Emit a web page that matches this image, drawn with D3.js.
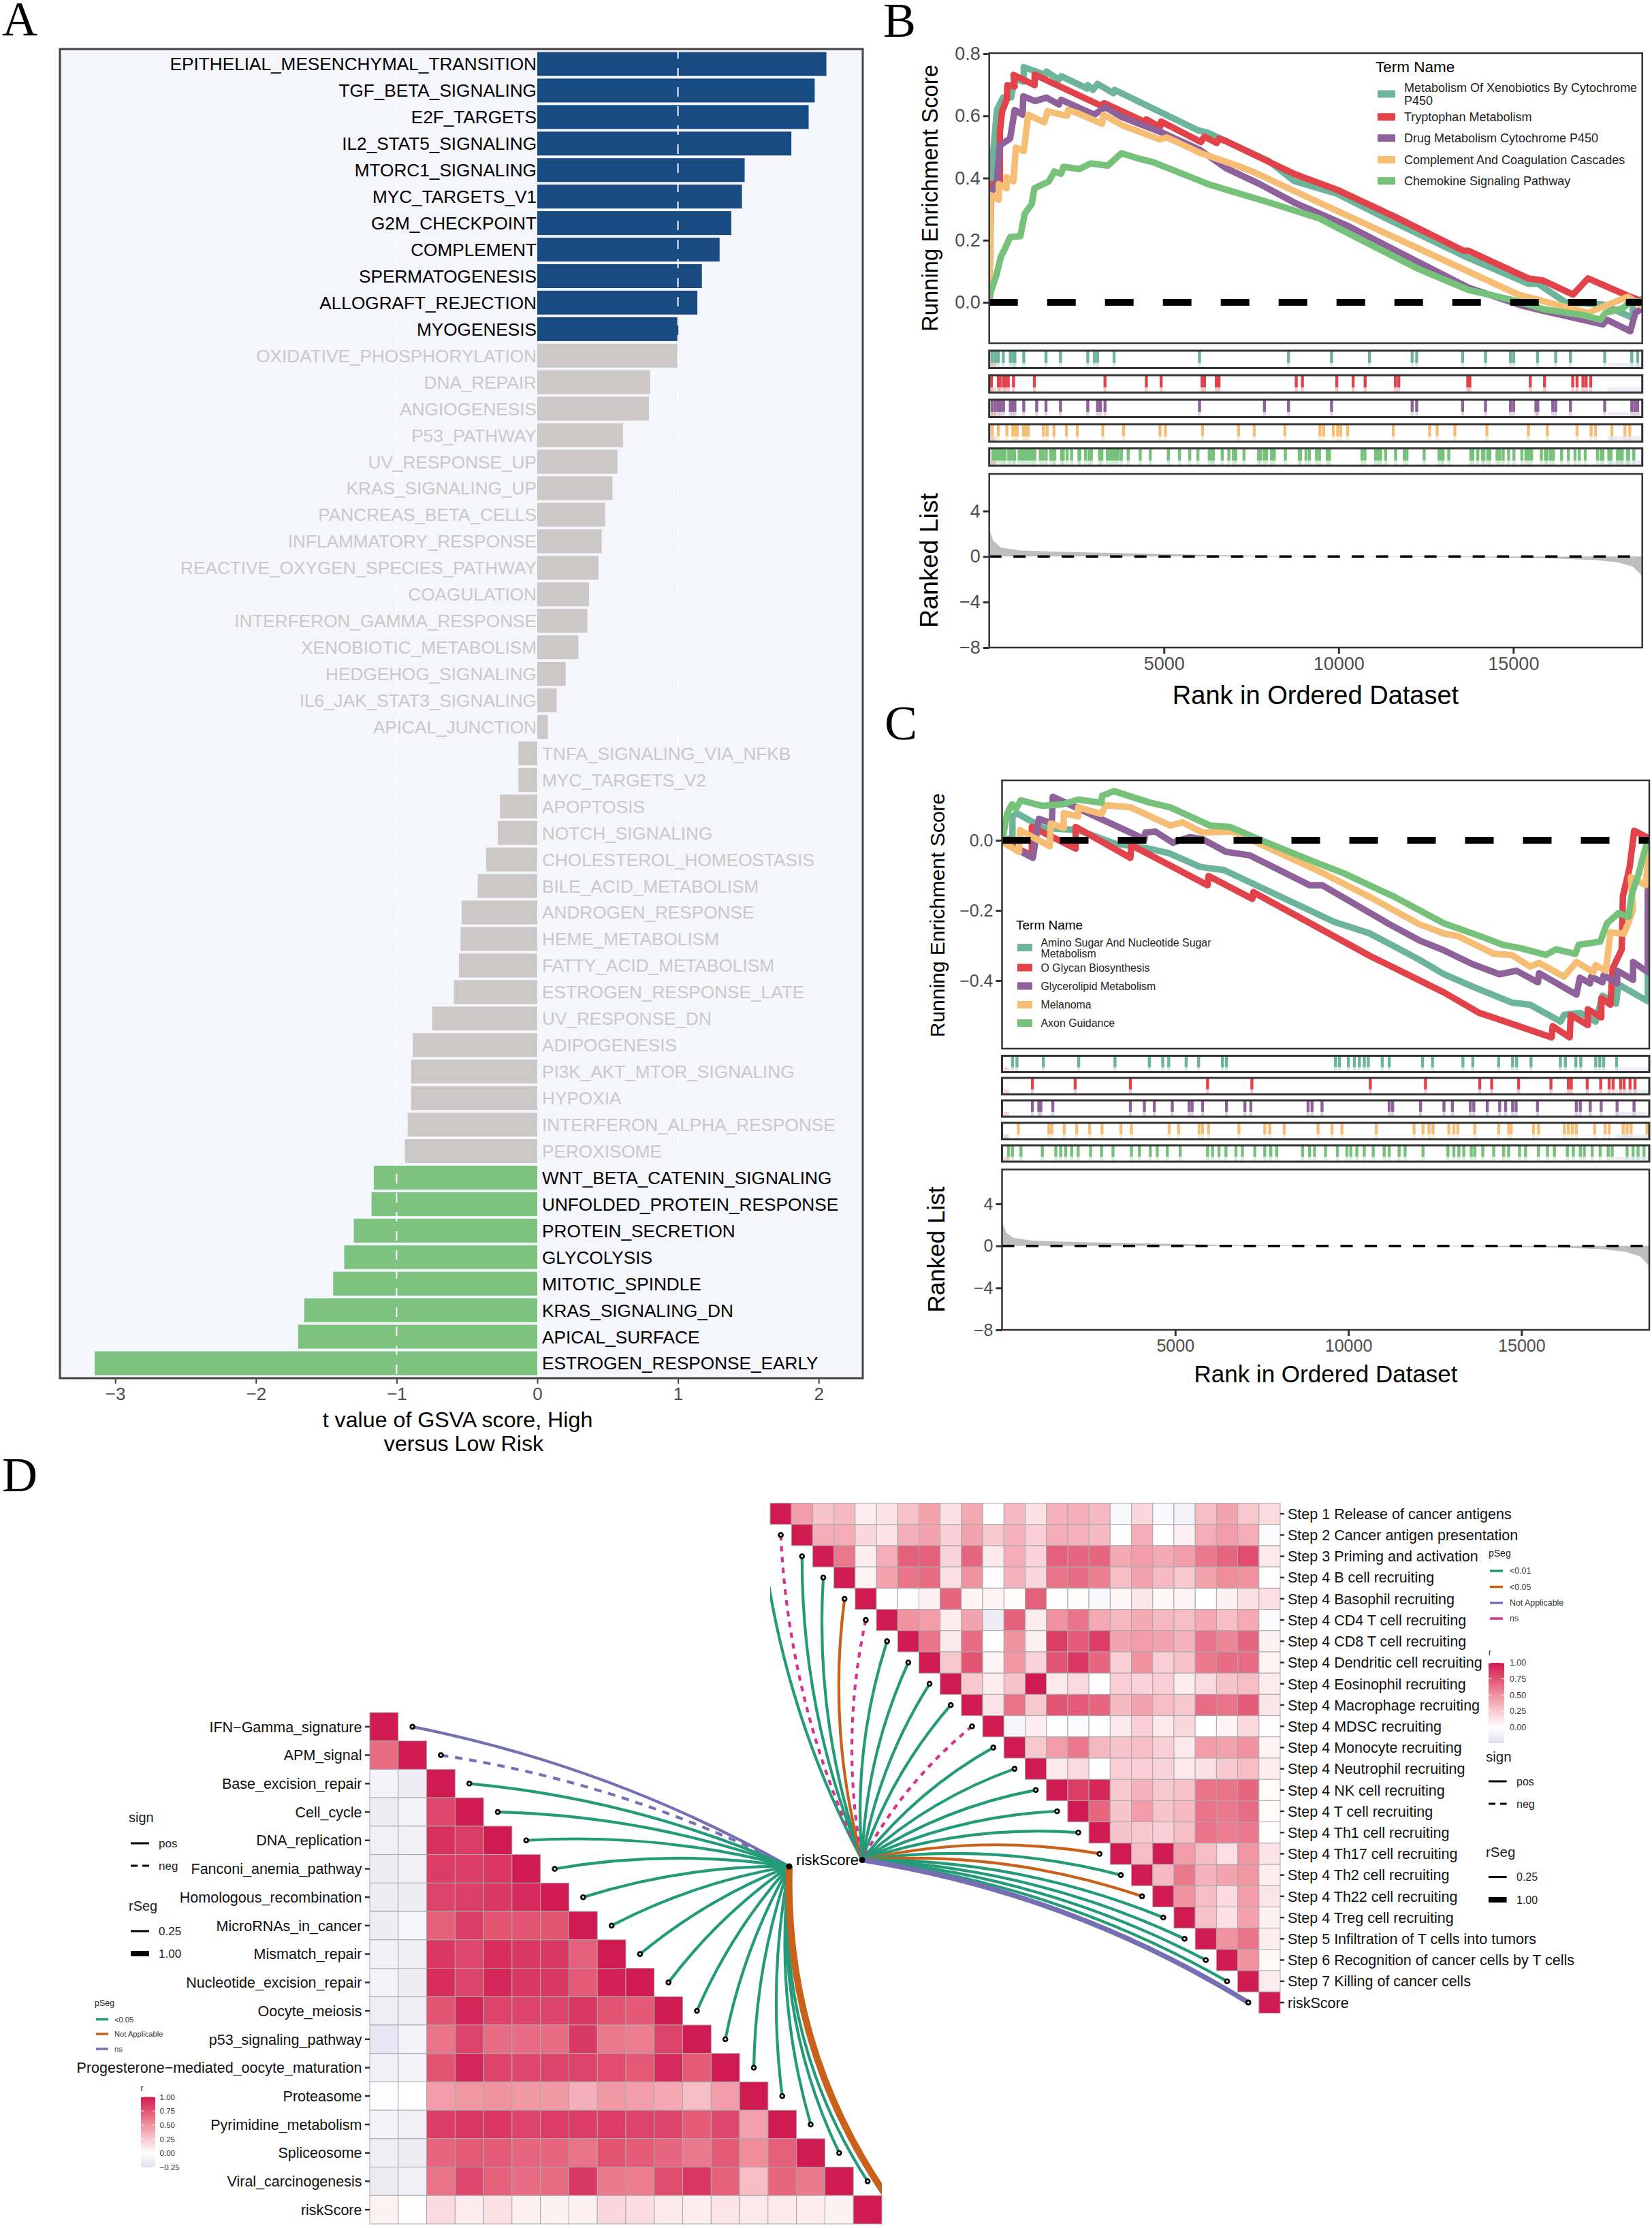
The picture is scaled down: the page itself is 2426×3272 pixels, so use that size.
<!doctype html>
<html>
<head>
<meta charset="utf-8">
<title>GSVA, GSEA and correlation panels</title>
<script src="https://d3js.org/d3.v7.min.js"></script>
<style>
    body { margin: 0; background: #fff; }
    text { font-family: "Liberation Sans", Arial, sans-serif; }
    .letter { font-family: "Liberation Serif", "Times New Roman", serif; font-size: 72px; fill: #000; }
    .tick text { fill: #4d4d4d; }
</style>
</head>
<body>
<script>

    // panel A
    var hallmarkNames = ["EPITHELIAL_MESENCHYMAL_TRANSITION","TGF_BETA_SIGNALING","E2F_TARGETS","IL2_STAT5_SIGNALING","MTORC1_SIGNALING","MYC_TARGETS_V1","G2M_CHECKPOINT","COMPLEMENT","SPERMATOGENESIS","ALLOGRAFT_REJECTION","MYOGENESIS","OXIDATIVE_PHOSPHORYLATION","DNA_REPAIR","ANGIOGENESIS","P53_PATHWAY","UV_RESPONSE_UP","KRAS_SIGNALING_UP","PANCREAS_BETA_CELLS","INFLAMMATORY_RESPONSE","REACTIVE_OXYGEN_SPECIES_PATHWAY","COAGULATION","INTERFERON_GAMMA_RESPONSE","XENOBIOTIC_METABOLISM","HEDGEHOG_SIGNALING","IL6_JAK_STAT3_SIGNALING","APICAL_JUNCTION","TNFA_SIGNALING_VIA_NFKB","MYC_TARGETS_V2","APOPTOSIS","NOTCH_SIGNALING","CHOLESTEROL_HOMEOSTASIS","BILE_ACID_METABOLISM","ANDROGEN_RESPONSE","HEME_METABOLISM","FATTY_ACID_METABOLISM","ESTROGEN_RESPONSE_LATE","UV_RESPONSE_DN","ADIPOGENESIS","PI3K_AKT_MTOR_SIGNALING","HYPOXIA","INTERFERON_ALPHA_RESPONSE","PEROXISOME","WNT_BETA_CATENIN_SIGNALING","UNFOLDED_PROTEIN_RESPONSE","PROTEIN_SECRETION","GLYCOLYSIS","MITOTIC_SPINDLE","KRAS_SIGNALING_DN","APICAL_SURFACE","ESTROGEN_RESPONSE_EARLY"];
    var hallmarkT = [2.055,1.972,1.929,1.806,1.474,1.455,1.379,1.296,1.17,1.138,1.003,0.996,0.802,0.794,0.609,0.569,0.534,0.482,0.458,0.435,0.368,0.356,0.292,0.202,0.138,0.075,-0.134,-0.134,-0.265,-0.281,-0.364,-0.423,-0.538,-0.545,-0.557,-0.593,-0.747,-0.885,-0.897,-0.897,-0.921,-0.941,-1.162,-1.178,-1.304,-1.372,-1.451,-1.656,-1.7,-3.146];
    var tTicks = [-3,-2,-1,0,1,2];

    // panel B, running score as [rank, score]
    var termsB = ["Metabolism Of Xenobiotics By Cytochrome\nP450","Tryptophan Metabolism","Drug Metabolism Cytochrome P450","Complement And Coagulation Cascades","Chemokine Signaling Pathway"];
    var esB1 = [[0,0],[13,.1],[78,.44],[143,.52],[221,.62],[403,.66],[630,.66],[728,.72],[988,.71],[988,.757],[1605,.732],[1638,.743],[1995,.717],[2060,.728],[2808,.688],[2821,.699],[2970,.684],[3100,.703],[3555,.673],[3588,.684],[5993,.553],[6253,.546],[8000,.455],[8732,.39],[9943,.35],[11581,.258],[13575,.15],[15427,.06],[15700,.06],[16500,0],[17564,-.007],[18418,-.05],[18418,.003],[18690,.01]];
    var esB2 = [[0,0],[26,.38],[305,.381],[305,.549],[370,.615],[500,.652],[520,.699],[728,.695],[695,.732],[1300,.699],[1300,.733],[3198,.633],[3296,.641],[4433,.582],[4498,.589],[4888,.564],[4920,.582],[6058,.516],[6155,.533],[6513,.513],[6578,.527],[6773,.519],[8732,.413],[8875,.407],[9943,.363],[11581,.277],[13575,.166],[13717,.166],[15427,.077],[15854,.07],[16709,.025],[17137,.077],[18348,.018],[18690,.003]];
    var esB3 = [[0,0],[45,.352],[208,.381],[305,.505],[598,.527],[728,.619],[955,.604],[975,.663],[1313,.648],[1638,.659],[1995,.637],[2060,.652],[3003,.604],[3328,.628],[3783,.597],[4953,.546],[6025,.491],[6773,.432],[7735,.381],[8732,.321],[10300,.244],[12293,.129],[13717,.047],[15285,-.012],[15854,-.027],[17564,-.071],[17678,-.056],[18348,-.093],[18490,-.034],[18690,-.019]];
    var esB4 = [[0,0],[45,.345],[273,.33],[273,.381],[500,.367],[500,.403],[695,.389],[760,.498],[988,.487],[1118,.604],[1573,.579],[1670,.615],[2223,.6],[2255,.619],[2548,.608],[3230,.575],[3263,.604],[3848,.568],[4888,.524],[5083,.531],[6058,.48],[7094,.44],[7592,.418],[9444,.321],[10869,.247],[12293,.173],[13717,.099],[15142,.025],[17137,-.034],[17279,-.027],[18276,.018],[18690,-.012]];
    var esB5 = [[0,0],[45,.034],[208,.089],[338,.148],[468,.177],[598,.21],[890,.213],[1020,.286],[1215,.316],[1293,.367],[1703,.389],[1865,.421],[2060,.414],[2125,.436],[2580,.429],[2905,.447],[3393,.44],[3783,.48],[4303,.462],[4693,.451],[5278,.425],[6253,.381],[6773,.363],[8020,.321],[9444,.27],[10869,.188],[12293,.107],[13717,.04],[15142,.003],[15854,-.022],[16994,-.041],[17493,-.056],[17635,-.034],[18134,-.019],[18348,.003],[18690,.003]];

    var hitsB1 = [84,175,260,402,604,688,734,988,1624,2040,2820,3009,3100,3574,6018,8566,9797,10883,12104,12234,13548,14204,14919,15010,15692,16212,16635,17616,18390,18559];
    var hitsB2 = [64,260,311,409,467,545,695,1293,3314,4497,4920,6090,6161,6499,6577,8787,8963,9947,10415,10759,11624,11721,13697,13756,15485,15894,16700,16824,16993,17084,17214];
    var hitsB3 = [84,175,260,324,409,604,669,734,988,1358,1624,2040,2820,3100,3184,3314,6018,7877,8566,9797,12104,12234,13548,14204,14919,15010,15647,15699,16128,16212,16635,17616,18390,18475,18559];
    var hitsB4 = [84,260,506,675,753,799,981,1059,1117,1553,1657,1852,2209,2521,3249,3847,4887,5043,6103,7136,7585,8462,9465,9570,9849,9973,10057,10258,11565,12605,12820,13326,14243,15432,15972,16823,17226,17350,17818,18195,18332];
    var hitsB5 = [103,181,259,337,402,454,558,610,688,727,857,935,1013,1091,1169,1247,1306,1462,1540,1631,1761,1832,1878,2073,2118,2229,2359,2567,2593,2756,2859,2924,3158,3223,3379,3457,3535,3613,3691,3782,3977,4322,4608,5128,5446,5739,5973,6298,6369,6415,6668,6857,6987,7058,7292,7708,7760,7864,7936,8079,8157,8476,8872,8911,9067,9165,9368,9453,9673,9738,10668,10753,11058,11136,11201,11344,11630,11877,11955,12449,12871,12943,12989,13151,13782,13840,13983,14120,14159,14269,14327,14535,14613,14711,14867,15017,15244,15361,15439,15523,15803,15920,15966,16070,16148,16381,16576,16765,16889,17058,17409,17513,17565,17733,17798,17981,18059,18117,18267,18299,18448];

    var rankedB = [[0,2.65],[40,2.1],[114,1.4],[330,.8],[900,.53],[2300,.4],[3750,.3],[6600,.12],[10000,0],[13700,-.05],[15850,-.15],[17280,-.3],[18000,-.5],[18420,-.9],[18630,-1.5],[18690,-1.8]];

    // panel C
    var termsC = ["Amino Sugar And Nucleotide Sugar\nMetabolism","O Glycan Biosynthesis","Glycerolipid Metabolism","Melanoma","Axon Guidance"];
    var esC1 = [[0,-.004],[302,.009],[302,.068],[431,.077],[1193,.035],[2199,.029],[3276,-.01],[4254,-.024],[4828,-.037],[5719,-.076],[6409,-.085],[9599,-.233],[10605,-.265],[12042,-.34],[12761,-.382],[13611,-.418],[14723,-.463],[15246,-.469],[16129,-.517],[16227,-.498],[16685,-.492],[17143,-.517],[17339,-.443],[17732,-.466],[17797,-.411],[18647,-.459],[18647,-.005],[18690,0]];
    var esC2 = [[0,-.004],[862,-.043],[862,.038],[2127,-.024],[2127,.038],[3707,-.05],[3736,-.014],[5935,-.128],[5964,-.102],[7228,-.167],[7257,-.148],[10648,-.331],[12229,-.408],[12761,-.434],[13775,-.492],[14167,-.505],[14919,-.53],[15868,-.562],[15900,-.53],[16391,-.562],[16423,-.498],[16914,-.527],[16914,-.482],[17306,-.505],[17306,-.45],[17568,-.469],[17633,-.366],[17895,-.311],[17928,-.16],[18124,-.076],[18255,.027],[18690,.005]];
    var esC3 = [[0,-.004],[891,-.05],[1063,.061],[1437,.048],[1466,.124],[3707,.022],[4110,.003],[4139,.022],[4426,.025],[4929,-.007],[5432,.009],[5791,.003],[6466,-.033],[7156,-.043],[8881,-.128],[9240,-.128],[11180,-.239],[12042,-.285],[12761,-.314],[13578,-.353],[14363,-.382],[14854,-.372],[15475,-.405],[15508,-.379],[16587,-.44],[16685,-.392],[16979,-.408],[17012,-.389],[17339,-.405],[17372,-.385],[17764,-.408],[17764,-.372],[18222,-.398],[18222,-.347],[18647,-.376],[18647,-.14],[18690,0]];
    var esC4 = [[0,-.004],[489,-.033],[517,.029],[1380,-.017],[1408,.048],[1782,.035],[1782,.077],[2199,.068],[2199,.094],[2874,.075],[2989,.1],[3707,.094],[4857,.042],[5216,.051],[5791,.022],[6653,.025],[7587,-.017],[9168,-.089],[10605,-.161],[12042,-.239],[12761,-.266],[13153,-.273],[14200,-.324],[14723,-.327],[15246,-.36],[15508,-.35],[16227,-.389],[16587,-.347],[17077,-.376],[17143,-.356],[17437,-.372],[17568,-.263],[17960,-.266],[18091,-.234],[18222,-.198],[18156,-.105],[18581,-.128],[18647,-.063],[18690,0]];
    var esC5 = [[0,-.004],[144,.075],[287,.103],[402,.09],[546,.114],[1164,.098],[1767,.103],[2199,.116],[2874,.107],[2888,.127],[3233,.14],[4282,.107],[4857,.094],[6007,.042],[6581,.038],[7587,-.004],[8881,-.056],[9887,-.095],[11323,-.161],[12761,-.237],[13873,-.276],[14461,-.298],[14985,-.308],[15704,-.327],[15998,-.311],[16554,-.324],[16652,-.298],[17274,-.289],[17470,-.237],[17797,-.208],[18091,-.218],[18189,-.153],[18385,-.095],[18516,-.044],[18647,0],[18690,0]];

    var hitsC1 = [302,431,1193,2213,3262,4254,4642,4814,5317,5676,6366,6481,9628,9743,10002,10174,10318,10461,10576,10979,11180,12143,12430,13307,13594,14341,14744,14859,15275,16123,16267,16569,16713,17144,17259,17373,17747];
    var hitsC2 = [877,2112,3707,5935,7214,10634,12229,13795,14140,14916,15850,16353,16439,16899,17287,17531,17646,17862,17963,18135,18279];
    var hitsC3 = [877,1063,1121,1466,3707,4110,4397,4915,5403,5489,5791,6481,7013,7185,8838,8953,9240,11180,11280,12085,12761,13005,13522,13623,14011,14370,14542,14744,14845,15462,16583,16698,16985,17301,17761,18250];
    var hitsC4 = [474,1351,1437,1796,2155,2529,2888,3434,3736,4828,5101,5691,5791,5964,6840,7587,7731,8148,9125,9527,9815,10806,11898,12157,12329,12444,12904,13048,13163,13652,14341,14629,14701,15347,15491,16238,16353,16468,16583,17115,17416,17531,17934,18049,18164,18624];
    var hitsC5 = [187,302,546,1164,1552,1696,1839,2012,2199,2558,2874,3204,3736,3966,4282,4483,4771,5145,5935,6078,6265,6466,6754,6941,7300,7587,7760,7932,8680,8881,9024,9341,9685,9958,10073,10246,10461,10720,11036,11180,11467,11640,12157,12876,13048,13192,13336,13551,13652,13882,14198,14485,14629,14945,15117,15491,15750,15951,16325,16497,16698,16813,17043,17273,17503,17618,18049,18221,18365,18537];

    var rankedC = [[0,2.55],[40,2],[114,1.3],[330,.75],[900,.5],[2300,.35],[3750,.25],[6600,.1],[10000,0],[13700,-.05],[15850,-.15],[17280,-.3],[18000,-.55],[18420,-1],[18630,-1.7],[18690,-2]];

    var rankTicks = [5000,10000,15000];
    var rankedTicks = [-8,-4,0,4];
    var termColors = ["#6CB59A","#E2434B","#8F619B","#F5BE74","#76C27A"];

    // panel D, left correlation triangle
    var leftNames = ["IFN\u2212Gamma_signature","APM_signal","Base_excision_repair","Cell_cycle","DNA_replication","Fanconi_anemia_pathway","Homologous_recombination","MicroRNAs_in_cancer","Mismatch_repair","Nucleotide_excision_repair","Oocyte_meiosis","p53_signaling_pathway","Progesterone\u2212mediated_oocyte_maturation","Proteasome","Pyrimidine_metabolism","Spliceosome","Viral_carcinogenesis","riskScore"];
    var leftR = [
        [1],
        [.65,1],
        [-.1,-.15,1],
        [-.15,-.1,.8,1],
        [-.12,-.12,.9,.85,1],
        [-.15,-.12,.85,.85,.88,1],
        [-.15,-.14,.82,.84,.87,.93,1],
        [-.14,-.08,.7,.85,.75,.75,.75,1],
        [-.11,-.13,.88,.8,.92,.87,.87,.7,1],
        [-.1,-.14,.92,.82,.95,.87,.87,.72,.97,1],
        [-.13,-.13,.75,.95,.82,.82,.82,.87,.75,.73,1],
        [-.2,-.1,.62,.82,.65,.65,.65,.87,.6,.58,.82,1],
        [-.12,-.1,.75,.95,.82,.8,.82,.82,.78,.73,.93,.72,1],
        [-.02,0,.45,.48,.5,.47,.47,.37,.47,.45,.4,.3,.45,1],
        [-.1,-.12,.85,.88,.88,.82,.85,.85,.85,.82,.82,.72,.8,.43,1],
        [-.13,-.15,.68,.72,.72,.68,.68,.62,.75,.72,.68,.6,.72,.52,.7,1],
        [-.16,-.12,.62,.8,.7,.65,.65,.87,.6,.58,.78,.88,.7,.3,.68,.6,1],
        [.06,-.02,.17,.09,.14,.07,.06,.07,.18,.16,.1,.08,.12,.1,.1,.08,.06,1]
    ];
    var leftBend = [.04,.04,.04,.04,.04,.04,.04,.04,.04,.04,.04,.04,.04,.04,.05,.07,.085,.085];
    var leftLinkKind = ["ns","nsNeg","p","p","p","p","p","p","p","p","p","p","p","p","p","p","p","na"];

    // panel D, right correlation triangle, each row starts on its diagonal
    var rightNames = ["Step 1 Release of cancer antigens","Step 2 Cancer antigen presentation","Step 3 Priming and activation","Step 4 B cell recruiting","Step 4 Basophil recruiting","Step 4 CD4 T cell recruiting","Step 4 CD8 T cell recruiting","Step 4 Dendritic cell recruiting","Step 4 Eosinophil recruiting","Step 4 Macrophage recruiting","Step 4 MDSC recruiting","Step 4 Monocyte recruiting","Step 4 Neutrophil recruiting","Step 4 NK cell recruiting","Step 4 T cell recruiting","Step 4 Th1 cell recruiting","Step 4 Th17 cell recruiting","Step 4 Th2 cell recruiting","Step 4 Th22 cell recruiting","Step 4 Treg cell recruiting","Step 5 Infiltration of T cells into tumors","Step 6 Recognition of cancer cells by T cells","Step 7 Killing of cancer cells","riskScore"];
    var rightR = [
        [1,.45,.27,.32,.08,.13,.28,.42,.14,.4,.01,.33,.14,.35,.37,.32,-.05,.18,-.05,-.1,.3,.42,.25,.17],
        [1,.38,.38,.18,.13,.37,.42,.22,.42,.25,.35,.22,.38,.35,.32,.01,.38,.01,.07,.38,.45,.38,-.03],
        [1,.6,.08,.38,.7,.7,.2,.68,.1,.38,.2,.7,.68,.68,.4,.45,.4,.45,.6,.68,.78,.1],
        [1,.05,.42,.62,.65,.15,.5,-.02,.35,.18,.62,.65,.58,.3,.42,.32,.25,.42,.52,.5,0],
        [1,-.01,-.01,.07,.68,.05,.05,.02,.7,-.01,.02,-.05,.03,.12,.03,.05,0,.06,.14,.15],
        [1,.5,.45,.08,.42,-.15,.7,.09,.5,.62,.4,.33,.4,.33,.3,.4,.3,.4,-.03],
        [1,.62,.1,.65,0,.5,.07,.85,.72,.85,.42,.45,.42,.35,.62,.55,.68,.06],
        [1,.25,.75,.05,.48,.2,.75,.88,.68,.22,.5,.22,.28,.6,.65,.65,.05],
        [1,.25,.08,.28,1,.1,.17,0,.22,.2,.22,.08,.17,.27,.3,.09],
        [1,.13,.62,.25,.75,.72,.68,.32,.42,.3,.25,.65,.62,.72,.12],
        [1,-.08,.08,0,-.03,0,.1,.22,.1,.18,0,.05,.17,-.02],
        [1,.25,.45,.6,.33,.27,.3,.22,.1,.45,.42,.5,.05],
        [1,.1,.17,0,.22,.22,.2,.1,.14,.25,.3,.08],
        [1,.85,.95,.25,.35,.25,.28,.62,.62,.68,.02],
        [1,.68,.27,.45,.27,.32,.62,.6,.65,.02],
        [1,.27,.25,.22,.3,.62,.58,.6,.01],
        [1,.3,1,.45,.3,.15,.48,.13],
        [1,.32,.6,.35,.42,.48,.08],
        [1,.5,.3,.17,.45,.12],
        [1,.28,.14,.42,.07],
        [1,.5,.62,.08],
        [1,.5,.03],
        [1,.09],
        [1]
    ];
    var rightBend = .05;
    var rightLinkKind = ["p","nsNeg","p","p","na","nsNeg","p","p","p","p","nsNeg","p","p","p","p","p","na","p","na","p","p","p","p","thick"];

    var rStops = [-.25,0,.25,.5,.75,1];
    var rColors = ["#E1DFEE","#FFFFFF","#F8C8CF","#F0929F","#E25472","#D01A52"];

    var svg = d3.select("body").append("svg")
        .attr("width", 2426)
        .attr("height", 3272)
        .style("display", "block");

    var defs = svg.append("defs");

    function letter(s, x, y) {
        svg.append("text").attr("class", "letter").attr("x", x).attr("y", y).text(s);
    }
    letter("A", 3, 52);
    letter("B", 1297, 54);
    letter("C", 1299, 1086);
    letter("D", 3, 2190);

    // ---- A ----
    var ax = d3.scaleLinear().domain([-3, 2]).range([169.2, 1202.2]);
    var ay = d3.scaleBand().domain(hallmarkNames).range([74.5, 2021.5]).paddingInner(0.1).paddingOuter(0.05);

    svg.append("rect")
        .attr("x", 88).attr("y", 72).attr("width", 1179).attr("height", 1952)
        .attr("fill", "#F4F6FB");

    function hallmarkColor(i) {
        if (i <= 10) return "#174B82";
        if (i >= 42) return "#7DC27F";
        return "#CCC8C8";
    }

    svg.append("g").selectAll("rect").data(hallmarkT).join("rect")
        .attr("x", function(d) { return Math.min(ax(0), ax(d)); })
        .attr("width", function(d) { return Math.abs(ax(d) - ax(0)); })
        .attr("y", function(d, i) { return ay(hallmarkNames[i]); })
        .attr("height", ay.bandwidth())
        .attr("fill", function(d, i) { return hallmarkColor(i); });

    [-1, 1].forEach(function(v) {
        svg.append("line")
            .attr("x1", ax(v)).attr("x2", ax(v))
            .attr("y1", 72).attr("y2", 2024)
            .attr("stroke", "#fff").attr("stroke-width", 2)
            .attr("stroke-dasharray", "14,14");
    });

    svg.append("g").selectAll("text").data(hallmarkNames).join("text")
        .attr("x", function(d, i) { return hallmarkT[i] > 0 ? ax(0) - 1 : ax(0) + 7; })
        .attr("y", function(d) { return ay(d) + ay.bandwidth() / 2; })
        .attr("dy", "0.36em")
        .attr("text-anchor", function(d, i) { return hallmarkT[i] > 0 ? "end" : "start"; })
        .attr("fill", function(d, i) { return (i <= 10 || i >= 42) ? "#000" : "#CCC8C8"; })
        .attr("font-size", 26.2)
        .text(function(d) { return d; });

    svg.append("rect")
        .attr("x", 88).attr("y", 72).attr("width", 1179).attr("height", 1952)
        .attr("fill", "none").attr("stroke", "#444").attr("stroke-width", 3);

    var aAxis = svg.append("g")
        .attr("transform", "translate(0,2024)")
        .call(d3.axisBottom(ax).tickValues(tTicks).tickSize(8).tickPadding(6).tickFormat(d3.format("d")));
    aAxis.select(".domain").remove();
    aAxis.selectAll("line").attr("stroke", "#444").attr("stroke-width", 2);
    aAxis.selectAll("text").attr("font-size", 26).attr("font-family", "Liberation Sans");

    svg.append("text").attr("x", 672).attr("y", 2096).attr("text-anchor", "middle").attr("font-size", 32.2).text("t value of GSVA score, High");
    svg.append("text").attr("x", 681).attr("y", 2131).attr("text-anchor", "middle").attr("font-size", 32.2).text("versus Low Risk");

    // ---- B, C ----
    function drawGsea(c) {
        var x = d3.scaleLinear().domain([0, 18690]).range([c.left, c.right]);
        var y = d3.scaleLinear().domain(c.esDomain).range(c.esRange);
        var id = "clip" + c.name;

        defs.append("clipPath").attr("id", id).append("rect")
            .attr("x", c.left).attr("y", c.top).attr("width", c.right - c.left).attr("height", c.bottom - c.top);

        var line = d3.line().x(function(d) { return x(d[0]); }).y(function(d) { return y(d[1]); });
        var curves = svg.append("g").attr("clip-path", "url(#" + id + ")");
        c.es.forEach(function(s, i) {
            curves.append("path")
                .attr("d", line(s))
                .attr("fill", "none")
                .attr("stroke", termColors[i])
                .attr("stroke-width", 9.5)
                .attr("stroke-linejoin", "round")
                .attr("stroke-linecap", "round");
        });
        curves.append("line")
            .attr("x1", c.left).attr("x2", c.right)
            .attr("y1", y(0)).attr("y2", y(0))
            .attr("stroke", "#000").attr("stroke-width", 10)
            .attr("stroke-dasharray", "42,43");

        svg.append("rect")
            .attr("x", c.left).attr("y", c.top).attr("width", c.right - c.left).attr("height", c.bottom - c.top)
            .attr("fill", "none").attr("stroke", "#333").attr("stroke-width", 2.5);

        var esAxis = svg.append("g")
            .attr("transform", "translate(" + c.left + ",0)")
            .call(d3.axisLeft(y).tickValues(c.esTicks).tickSize(9).tickPadding(4).tickFormat(d3.format(".1f")));
        esAxis.select(".domain").remove();
        esAxis.selectAll("line").attr("stroke", "#333").attr("stroke-width", 3);
        esAxis.selectAll("text").attr("font-size", c.tickFont).attr("font-family", "Liberation Sans");

        // hit strips
        c.hits.forEach(function(h, i) {
            var top = c.stripTop[i], hgt = c.stripH;
            var g = svg.append("g");
            g.selectAll("rect.pale").data(h).join("rect")
                .attr("class", "pale")
                .attr("x", function(d) { return x(d) - 2.15; })
                .attr("y", top).attr("width", 4.3).attr("height", hgt)
                .attr("fill", termColors[i]).attr("opacity", 0.28);
            g.selectAll("rect.hit").data(h).join("rect")
                .attr("class", "hit")
                .attr("x", function(d) { return x(d) - 2.15; })
                .attr("y", top).attr("width", 4.3).attr("height", hgt * 0.7)
                .attr("fill", termColors[i]);
            g.append("rect").attr("x", c.left + 2).attr("y", top + hgt * 0.7)
                .attr("width", 8).attr("height", hgt * 0.3).attr("fill", "#E08A7A").attr("opacity", 0.35);
            g.append("rect").attr("x", x(17700)).attr("y", top + hgt * 0.7)
                .attr("width", c.right - x(17700)).attr("height", hgt * 0.3).attr("fill", "#C9CDE6").attr("opacity", 0.35);
            g.append("rect")
                .attr("x", c.left).attr("y", top).attr("width", c.right - c.left).attr("height", hgt)
                .attr("fill", "none").attr("stroke", "#333").attr("stroke-width", 3);
        });

        // ranked list
        var ry = d3.scaleLinear().domain([-8, 4]).range(c.rankRange);
        var area = d3.area().x(function(d) { return x(d[0]); }).y0(ry(0)).y1(function(d) { return ry(d[1]); });
        svg.append("path").attr("d", area(c.ranked)).attr("fill", "#BEBEBE");
        svg.append("line")
            .attr("x1", c.left).attr("x2", c.right)
            .attr("y1", ry(0)).attr("y2", ry(0))
            .attr("stroke", "#000").attr("stroke-width", 3.5)
            .attr("stroke-dasharray", "18,17.5");
        svg.append("rect")
            .attr("x", c.left).attr("y", c.rankTop).attr("width", c.right - c.left).attr("height", ry(-8) - c.rankTop)
            .attr("fill", "none").attr("stroke", "#333").attr("stroke-width", 2.5);

        var rAxis = svg.append("g")
            .attr("transform", "translate(" + c.left + ",0)")
            .call(d3.axisLeft(ry).tickValues(rankedTicks).tickSize(9).tickPadding(4).tickFormat(d3.format("d")));
        rAxis.select(".domain").remove();
        rAxis.selectAll("line").attr("stroke", "#333").attr("stroke-width", 3);
        rAxis.selectAll("text").attr("font-size", c.tickFont).attr("font-family", "Liberation Sans");

        var xAxis = svg.append("g")
            .attr("transform", "translate(0," + ry(-8) + ")")
            .call(d3.axisBottom(x).tickValues(rankTicks).tickSize(9).tickPadding(5).tickFormat(d3.format("d")));
        xAxis.select(".domain").remove();
        xAxis.selectAll("line").attr("stroke", "#333").attr("stroke-width", 3);
        xAxis.selectAll("text").attr("font-size", c.tickFont).attr("font-family", "Liberation Sans");

        function yTitle(s, cy, size) {
            svg.append("text")
                .attr("transform", "translate(" + c.titleX + "," + cy + ") rotate(-90)")
                .attr("text-anchor", "middle")
                .attr("font-size", size)
                .text(s);
        }
        yTitle("Running Enrichment Score", c.esTitleY, c.titleFont);
        yTitle("Ranked List", c.rankTitleY, c.rankTitleFont);
        svg.append("text")
            .attr("x", c.xTitleX).attr("y", c.xTitleY)
            .attr("text-anchor", "middle").attr("font-size", c.xTitleFont)
            .text("Rank in Ordered Dataset");

        // legend
        var lg = c.legend;
        svg.append("text").attr("x", lg.x).attr("y", lg.titleY).attr("font-size", lg.titleFont).text("Term Name");
        c.terms.forEach(function(t, i) {
            var parts = t.split("\n");
            svg.append("rect")
                .attr("x", lg.keyX).attr("y", lg.keyY[i] - 5.5).attr("width", lg.keyW).attr("height", 11)
                .attr("fill", termColors[i]);
            parts.forEach(function(p, k) {
                svg.append("text")
                    .attr("x", lg.labelX)
                    .attr("y", lg.textY[i] + k * lg.lineH)
                    .attr("dy", "0.36em")
                    .attr("font-size", lg.font)
                    .attr("fill", "#222")
                    .text(p);
            });
        });
    }

    drawGsea({
        name: "B", left: 1452.7, right: 2411.7, top: 78, bottom: 504,
        esDomain: [0, .8], esRange: [444, 79], esTicks: [0, .2, .4, .6, .8],
        es: [esB1, esB2, esB3, esB4, esB5], hits: [hitsB1, hitsB2, hitsB3, hitsB4, hitsB5],
        stripTop: [515, 551, 587, 623, 658.5], stripH: 25.5,
        ranked: rankedB, rankRange: [951, 750.5], rankTop: 696,
        tickFont: 27, titleFont: 32.8, rankTitleFont: 37.5, xTitleFont: 38,
        titleX: 1377, esTitleY: 291, rankTitleY: 823, xTitleX: 1932, xTitleY: 1034,
        terms: termsB,
        legend: { x: 2020, titleY: 106, titleFont: 22.5, keyX: 2023, keyW: 26, keyY: [138, 171.7, 202.8, 234.6, 265.7],
            labelX: 2062, textY: [128.5, 171.7, 202.8, 234.6, 265.7], lineH: 19, font: 18 }
    });

    drawGsea({
        name: "C", left: 1471.5, right: 2422, top: 1146, bottom: 1540,
        esDomain: [-.4, 0], esRange: [1440, 1234], esTicks: [-.4, -.2, 0],
        es: [esC1, esC2, esC3, esC4, esC5], hits: [hitsC1, hitsC2, hitsC3, hitsC4, hitsC5],
        stripTop: [1550.5, 1583, 1616, 1649, 1682], stripH: 24,
        ranked: rankedC, rankRange: [1953, 1768], rankTop: 1717.5,
        tickFont: 25, titleFont: 30, rankTitleFont: 35, xTitleFont: 35,
        titleX: 1387, esTitleY: 1344, rankTitleY: 1835, xTitleX: 1947, xTitleY: 2030,
        terms: termsC,
        legend: { x: 1492, titleY: 1365, titleFont: 19, keyX: 1494, keyW: 22, keyY: [1391.6, 1421, 1448, 1475.5, 1502.5],
            labelX: 1528.5, textY: [1384, 1421, 1448, 1475.5, 1502.5], lineH: 16, font: 15.9 }
    });

    // ---- D ----
    var rColor = d3.scaleLinear().domain(rStops).range(rColors);
    var linkColor = { p: "#249B78", na: "#C9611B", ns: "#7570B3", nsNeg: "#7570B3", pink: "#D6328E" };

    function ring(g, x, y) {
        g.append("circle").attr("cx", x).attr("cy", y).attr("r", 3)
            .attr("fill", "#ddd").attr("stroke", "#000").attr("stroke-width", 2.6);
    }
    function curve(x0, y0, x1, y1, bend) {
        // quadratic bow, bend is control offset as part of the chord length
        var dx = x1 - x0, dy = y1 - y0;
        var p = d3.path();
        p.moveTo(x0, y0);
        p.quadraticCurveTo((x0 + x1) / 2 + dy * bend * 2, (y0 + y1) / 2 - dx * bend * 2, x1, y1);
        return p.toString();
    }

    // left triangle
    var lx = d3.scaleBand().domain(d3.range(18)).range([543, 1295]);
    var ly = d3.scaleBand().domain(d3.range(18)).range([2515, 3266]);
    var lNode = [1159, 2741];

    var lCells = svg.append("g");
    leftR.forEach(function(row, i) {
        lCells.selectAll(null).data(row).join("rect")
            .attr("x", function(d, j) { return lx(j); })
            .attr("y", ly(i))
            .attr("width", lx.bandwidth()).attr("height", ly.bandwidth())
            .attr("fill", function(d) { return rColor(d); })
            .attr("stroke", "#A9A9A9").attr("stroke-width", 1);
    });
    svg.append("g").selectAll("text").data(leftNames).join("text")
        .attr("x", 531.5)
        .attr("y", function(d, i) { return ly(i) + ly.bandwidth() / 2; })
        .attr("dy", "0.36em").attr("text-anchor", "end").attr("font-size", 21.5)
        .attr("fill", "#111")
        .text(function(d) { return d; });
    svg.append("g").selectAll("line").data(leftNames).join("line")
        .attr("x1", 536).attr("x2", 543)
        .attr("y1", function(d, i) { return ly(i) + ly.bandwidth() / 2; })
        .attr("y2", function(d, i) { return ly(i) + ly.bandwidth() / 2; })
        .attr("stroke", "#333").attr("stroke-width", 2.5);

    defs.append("clipPath").attr("id", "clipLeft").append("rect").attr("x", 500).attr("y", 2500).attr("width", 795).attr("height", 772);
    var lLinks = svg.append("g").attr("clip-path", "url(#clipLeft)");
    leftNames.forEach(function(n, i) {
        var ex = lx(i) + lx.bandwidth() * 1.5, ey = ly(i) + ly.bandwidth() / 2;
        var k = leftLinkKind[i];
        lLinks.append("path")
            .attr("d", curve(ex, ey, lNode[0], lNode[1], leftBend[i]))
            .attr("fill", "none")
            .attr("stroke", linkColor[k])
            .attr("stroke-width", k == "na" ? 10 : 4.2)
            .attr("stroke-dasharray", k == "nsNeg" ? "11,10" : null);
        if (i < 17) ring(svg, ex, ey);
    });
    svg.append("circle").attr("cx", lNode[0]).attr("cy", lNode[1]).attr("r", 4.5).attr("fill", "#000");

    // right triangle
    var rx = d3.scaleBand().domain(d3.range(24)).range([1131, 1880]);
    var ryy = d3.scaleBand().domain(d3.range(24)).range([2207.5, 2956.5]);
    var rNode = [1266, 2731.5];

    var rCells = svg.append("g");
    rightR.forEach(function(row, i) {
        rCells.selectAll(null).data(row).join("rect")
            .attr("x", function(d, j) { return rx(i + j); })
            .attr("y", ryy(i))
            .attr("width", rx.bandwidth()).attr("height", ryy.bandwidth())
            .attr("fill", function(d) { return rColor(d); })
            .attr("stroke", "#A9A9A9").attr("stroke-width", 1);
    });
    svg.append("g").selectAll("text").data(rightNames).join("text")
        .attr("x", 1891)
        .attr("y", function(d, i) { return ryy(i) + ryy.bandwidth() / 2; })
        .attr("dy", "0.36em").attr("font-size", 21.5)
        .attr("fill", "#111")
        .text(function(d) { return d; });
    svg.append("g").selectAll("line").data(rightNames).join("line")
        .attr("x1", 1880).attr("x2", 1886)
        .attr("y1", function(d, i) { return ryy(i) + ryy.bandwidth() / 2; })
        .attr("y2", function(d, i) { return ryy(i) + ryy.bandwidth() / 2; })
        .attr("stroke", "#333").attr("stroke-width", 2.5);

    defs.append("clipPath").attr("id", "clipRight").append("rect").attr("x", 1131).attr("y", 2200).attr("width", 760).attr("height", 770);
    var rLinks = svg.append("g").attr("clip-path", "url(#clipRight)");
    rightNames.forEach(function(n, i) {
        var ex = rx(0) + rx.bandwidth() * (i - 0.5), ey = ryy(i) + ryy.bandwidth() / 2;
        var k = rightLinkKind[i];
        var col = k == "p" ? linkColor.p : k == "na" ? linkColor.na : k == "nsNeg" ? linkColor.pink : linkColor.ns;
        rLinks.append("path")
            .attr("d", curve(ex, ey, rNode[0], rNode[1], -rightBend))
            .attr("fill", "none")
            .attr("stroke", col)
            .attr("stroke-width", k == "thick" ? 7.5 : 4.2)
            .attr("stroke-dasharray", k == "nsNeg" ? "8,8" : null);
        if (i > 0) ring(svg, ex, ey);
    });
    svg.append("circle").attr("cx", rNode[0]).attr("cy", rNode[1]).attr("r", 4.5).attr("fill", "#000");
    svg.append("text").attr("x", 1261).attr("y", rNode[1] + 7).attr("text-anchor", "end").attr("font-size", 22).text("riskScore");

    // legends for D
    function lineLegend(title, tx, ty, tfont, items, x0, x1, lx2, ys, font, fill) {
        svg.append("text").attr("x", tx).attr("y", ty).attr("dy", "0.36em").attr("font-size", tfont).attr("fill", "#222").text(title);
        items.forEach(function(it, i) {
            svg.append("line")
                .attr("x1", x0).attr("x2", x1).attr("y1", ys[i]).attr("y2", ys[i])
                .attr("stroke", it.c).attr("stroke-width", it.w)
                .attr("stroke-dasharray", it.d || null);
            svg.append("text").attr("x", lx2).attr("y", ys[i]).attr("dy", "0.36em").attr("font-size", font).attr("fill", fill).text(it.t);
        });
    }
    function colorBar(id, title, titleX, titleY, tfont, x, w, stops, labels, labelX, y0, y1, font) {
        var barY = d3.scaleLinear().domain(stops).range([y0, y1]);
        var grad = defs.append("linearGradient").attr("id", id).attr("x1", 0).attr("x2", 0).attr("y1", 0).attr("y2", 1);
        [1, .75, .5, .25, 0, -.25].forEach(function(v) {
            if (v >= stops[1]) {
                grad.append("stop").attr("offset", (barY(v) - y0) / (y1 - y0)).attr("stop-color", rColor(v));
            }
        });
        svg.append("rect").attr("x", x).attr("y", y0).attr("width", w).attr("height", y1 - y0).attr("fill", "url(#" + id + ")");
        svg.append("text").attr("x", titleX).attr("y", titleY).attr("dy", "0.36em").attr("font-size", tfont).attr("fill", "#222").text(title);
        labels.forEach(function(v) {
            svg.append("line").attr("x1", x).attr("x2", x + w * .2).attr("y1", barY(v)).attr("y2", barY(v)).attr("stroke", "#fff");
            svg.append("line").attr("x1", x + w * .8).attr("x2", x + w).attr("y1", barY(v)).attr("y2", barY(v)).attr("stroke", "#fff");
            svg.append("text").attr("x", labelX).attr("y", barY(v)).attr("dy", "0.36em").attr("font-size", font).attr("fill", "#333").text(d3.format(".2f")(v));
        });
    }

    lineLegend("sign", 189, 2669, 20, [{c: "#000", w: 3, t: "pos"}, {c: "#000", w: 3, d: "10,7", t: "neg"}], 192, 219, 233, [2707, 2740], 17, "#222");
    lineLegend("rSeg", 189, 2799, 20, [{c: "#000", w: 3, t: "0.25"}, {c: "#000", w: 8, t: "1.00"}], 192, 219, 233, [2836, 2869], 17, "#222");
    lineLegend("pSeg", 139, 2941.5, 12.5, [{c: linkColor.p, w: 3.5, t: "<0.05"}, {c: linkColor.na, w: 3.5, t: "Not Applicable"}, {c: linkColor.ns, w: 3.5, t: "ns"}], 141, 159, 168, [2965.6, 2987, 3009], 11.2, "#333");
    colorBar("barLeft", "r", 206.5, 3067, 12, 207, 21, [1, -.25], [1, .75, .5, .25, 0, -.25], 234.6, 3079.5, 3183, 11.5);

    lineLegend("pSeg", 2186, 2281, 14, [{c: linkColor.p, w: 3.5, t: "<0.01"}, {c: linkColor.na, w: 3.5, t: "<0.05"}, {c: linkColor.ns, w: 3.5, t: "Not Applicable"}, {c: linkColor.pink, w: 3.5, t: "ns"}], 2188, 2207, 2217, [2307, 2330.5, 2354, 2377], 12.4, "#333");
    colorBar("barRight", "r", 2186, 2427, 12, 2186, 23, [1, -.25], [1, .75, .5, .25, 0], 2217, 2442, 2560, 12.4);
    lineLegend("sign", 2182, 2579.5, 20.5, [{c: "#000", w: 3, t: "pos"}, {c: "#000", w: 3, d: "10,7", t: "neg"}], 2186, 2212.6, 2227, [2616, 2649], 16, "#222");
    lineLegend("rSeg", 2182, 2720, 20.5, [{c: "#000", w: 3, t: "0.25"}, {c: "#000", w: 8, t: "1.00"}], 2186, 2212.6, 2227, [2756.5, 2790], 16, "#222");

</script>
</body>
</html>
